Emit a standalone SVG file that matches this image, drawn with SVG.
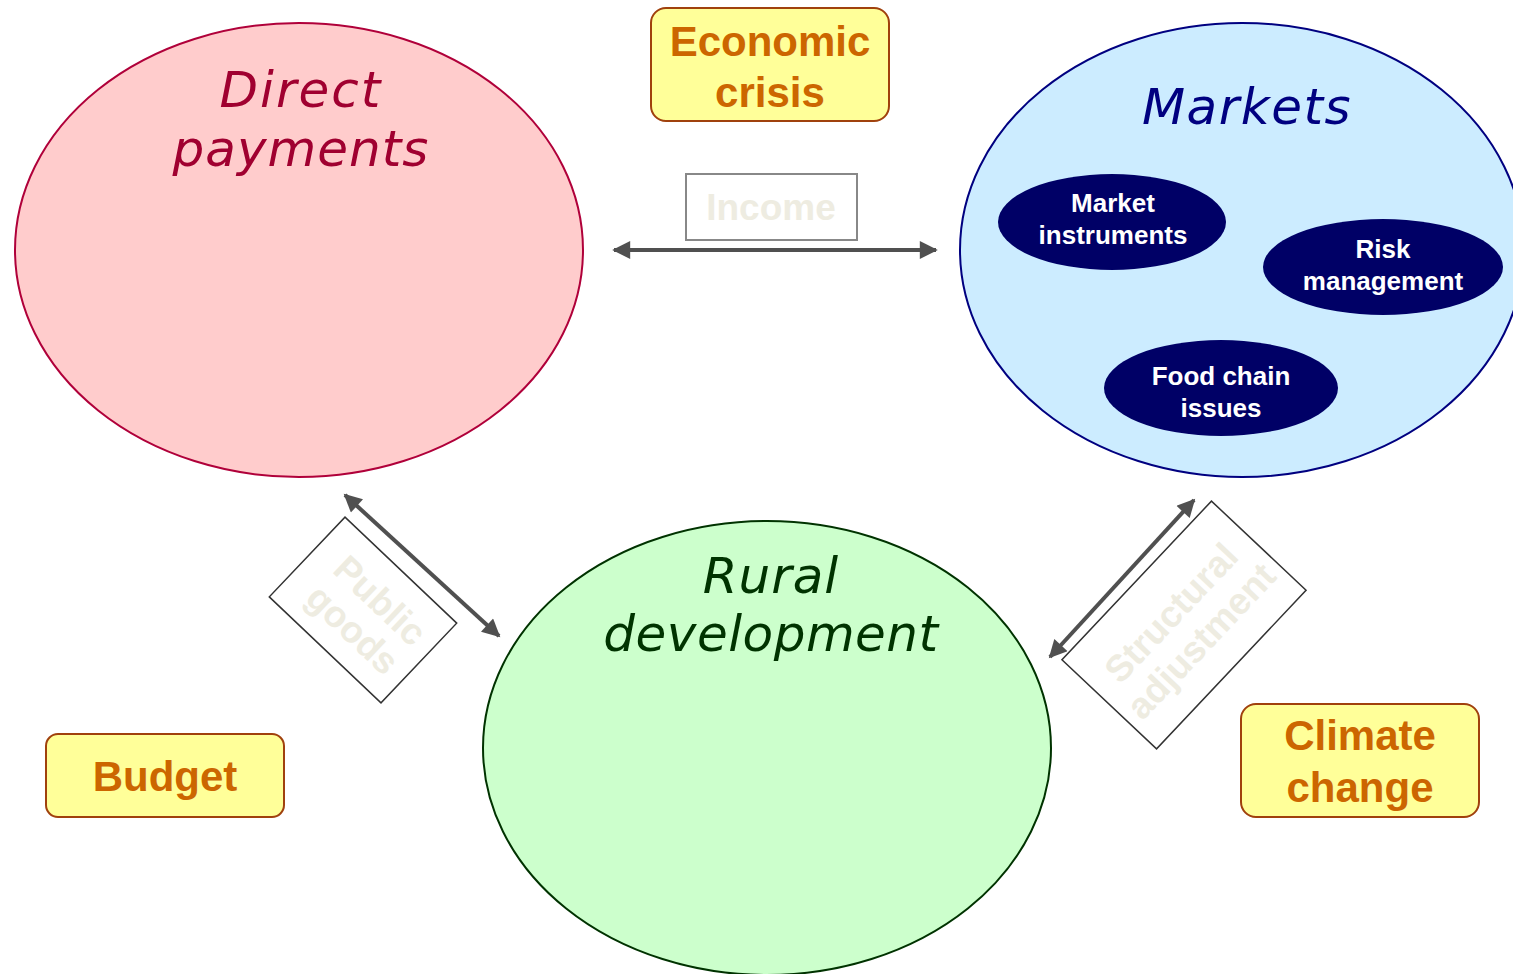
<svg xmlns="http://www.w3.org/2000/svg" width="1513" height="974" viewBox="0 0 1513 974">
<defs>
<marker id="ah" viewBox="0 0 10 10" refX="9" refY="5" markerWidth="5" markerHeight="4.5" orient="auto-start-reverse" markerUnits="strokeWidth">
<path d="M0,0 L10,5 L0,10 z" fill="#505050"/>
</marker>
<style>
.title{font-family:"DejaVu Sans",Verdana,sans-serif;font-style:italic;font-size:50px;text-anchor:middle}
.sub{font-family:"Liberation Sans",Arial,sans-serif;font-weight:bold;font-size:26px;fill:#fff;text-anchor:middle}
.ybox{fill:#FFFF99;stroke:#A0410D;stroke-width:2}
.ytxt{font-family:"Liberation Sans",Arial,sans-serif;font-weight:bold;font-size:42px;fill:#CC6600;text-anchor:middle}
.lbox{fill:#fff;stroke:#333;stroke-width:1.5}
.ltxt{font-family:"Liberation Sans",Arial,sans-serif;font-weight:bold;font-size:37px;fill:#EEECE1;text-anchor:middle}
.conn{stroke:#505050;stroke-width:4;fill:none;marker-start:url(#ah);marker-end:url(#ah)}
</style>
</defs>
<rect width="1513" height="974" fill="#fff"/>
<g id="direct-payments">
<ellipse cx="299" cy="250" rx="284" ry="227" fill="#FFCCCC" stroke="#B0003A" stroke-width="2"/>
<text class="title" fill="#A00030" x="301" y="107" letter-spacing="2">Direct</text>
<text class="title" fill="#A00030" x="301" y="166" letter-spacing="1">payments</text>
</g>
<g id="markets">
<ellipse cx="1242" cy="250" rx="282" ry="227" fill="#CCECFF" stroke="#000080" stroke-width="2"/>
<text class="title" fill="#000080" x="1247" y="124" letter-spacing="1.5">Markets</text>
</g>
<g id="market-instruments">
<ellipse cx="1112" cy="222" rx="114" ry="48" fill="#000066"/>
<text class="sub" x="1113" y="212">Market</text>
<text class="sub" x="1113" y="244">instruments</text>
</g>
<g id="risk-management">
<ellipse cx="1383" cy="267" rx="120" ry="48" fill="#000066"/>
<text class="sub" x="1383" y="258">Risk</text>
<text class="sub" x="1383" y="290">management</text>
</g>
<g id="food-chain-issues">
<ellipse cx="1221" cy="388" rx="117" ry="48" fill="#000066"/>
<text class="sub" x="1221" y="385">Food chain</text>
<text class="sub" x="1221" y="417">issues</text>
</g>
<g id="rural-development">
<ellipse cx="767" cy="748" rx="284" ry="227" fill="#CCFFCC" stroke="#003300" stroke-width="2"/>
<text class="title" fill="#003300" x="771" y="593" letter-spacing="1">Rural</text>
<text class="title" fill="#003300" x="771" y="651" letter-spacing="0.5">development</text>
</g>
<g id="economic-crisis">
<rect class="ybox" x="651" y="8" width="238" height="113" rx="15"/>
<text class="ytxt" x="770" y="56">Economic</text>
<text class="ytxt" x="770" y="107">crisis</text>
</g>
<g id="budget">
<rect class="ybox" x="46" y="734" width="238" height="83" rx="12"/>
<text class="ytxt" x="165" y="791">Budget</text>
</g>
<g id="climate-change">
<rect class="ybox" x="1241" y="704" width="238" height="113" rx="15"/>
<text class="ytxt" x="1360" y="750">Climate</text>
<text class="ytxt" x="1360" y="802">change</text>
</g>
<g id="connectors">
<line class="conn" x1="614" y1="250" x2="936" y2="250"/>
<line class="conn" x1="345" y1="495" x2="499" y2="636"/>
<line class="conn" x1="1194" y1="500" x2="1050" y2="657"/>
</g>
<g id="income">
<rect x="686" y="174" width="171" height="66" fill="#fff" stroke="#888" stroke-width="2"/>
<text class="ltxt" x="771" y="220">Income</text>
</g>
<g id="public-goods" transform="translate(363,610) rotate(43.5)">
<rect class="lbox" x="-77" y="-55" width="154" height="110"/>
<text class="ltxt" x="6" y="-6">Public</text>
<text class="ltxt" x="6" y="34">goods</text>
</g>
<g id="structural-adjustment" transform="translate(1184,625) rotate(-46.7)">
<rect class="lbox" x="-109" y="-65" width="218" height="130"/>
<text class="ltxt" x="0" y="-5">Structural</text>
<text class="ltxt" x="0" y="36">adjustment</text>
</g>
</svg>
